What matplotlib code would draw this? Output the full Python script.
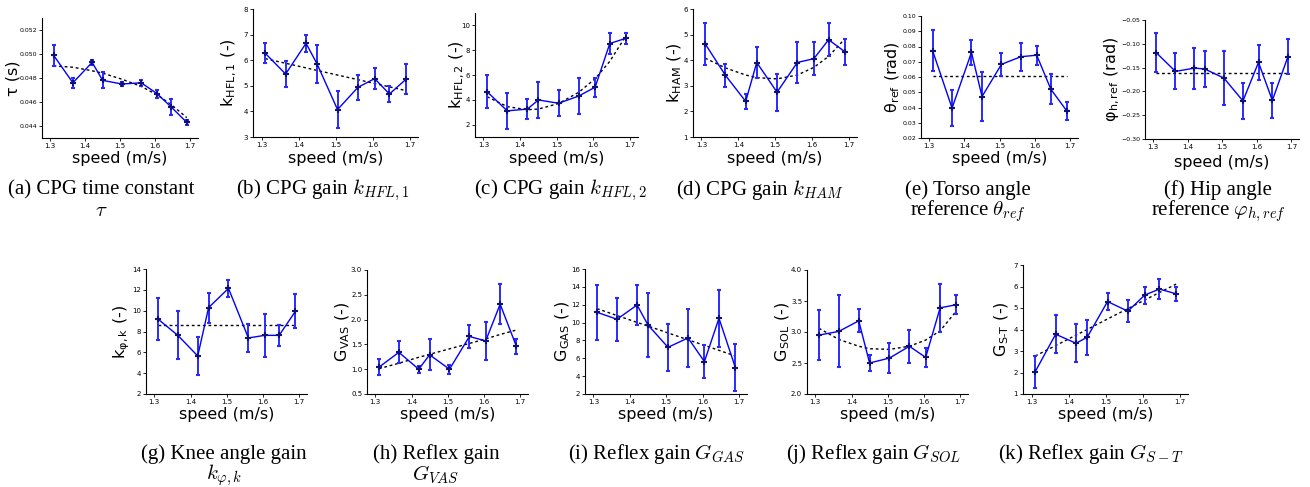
import numpy as np
import matplotlib.pyplot as plt

plt.rcParams['mathtext.fontset'] = 'cm'

# walking speeds (m/s)
speed = [1.31, 1.365, 1.42, 1.45, 1.505, 1.56, 1.605, 1.645, 1.69]

# (a) CPG time constant
tau = [0.0499, 0.0476, 0.0493, 0.0478, 0.0475, 0.0476, 0.0467, 0.0456, 0.0443]
tau_err = [0.00088, 0.00044, 0.0002, 0.00066, 0.00018, 0.00025, 0.00033, 0.00068, 0.0002]
tau_fit = [0.0490, 0.0489, 0.0486, 0.0484, 0.0479, 0.0473, 0.0466, 0.0458, 0.0447]

# (b) k_HFL,1
k_hfl1 = [6.27, 5.46, 6.66, 5.85, 4.07, 4.94, 5.28, 4.68, 5.26]
k_hfl1_err = [0.39, 0.5, 0.33, 0.75, 0.73, 0.5, 0.4, 0.3, 0.59]
k_hfl1_fit = [6.06, 5.88, 5.70, 5.60, 5.42, 5.24, 5.09, 4.96, 4.81]

# (c) k_HFL,2
k_hfl2 = [4.65, 3.11, 3.25, 3.99, 3.72, 4.30, 5.02, 8.54, 8.97]
k_hfl2_err = [1.32, 1.43, 0.8, 1.44, 1.03, 1.43, 0.77, 0.87, 0.45]
k_hfl2_fit = [4.25, 3.45, 3.2, 3.25, 3.7, 4.6, 5.7, 7.1, 9.2]

# (d) k_HAM
k_ham = [4.64, 3.41, 2.39, 3.91, 2.75, 3.91, 4.06, 4.80, 4.32]
k_ham_err = [0.82, 0.45, 0.3, 0.62, 0.73, 0.82, 0.64, 0.65, 0.49]
k_ham_fit = [4.08, 3.70, 3.42, 3.32, 3.27, 3.42, 3.72, 4.15, 4.85]

# (e) torso angle reference
theta_ref = [0.0772, 0.0396, 0.0761, 0.0472, 0.0683, 0.0733, 0.0743, 0.0520, 0.0378]
theta_ref_err = [0.0133, 0.0118, 0.0084, 0.0162, 0.0076, 0.0093, 0.0063, 0.0098, 0.0059]
theta_ref_fit = [0.0605] * 9

# (f) hip angle reference
phi_ref = [-0.119, -0.158, -0.151, -0.153, -0.172, -0.220, -0.139, -0.219, -0.127]
phi_ref_err = [0.041, 0.038, 0.043, 0.038, 0.056, 0.038, 0.037, 0.036, 0.037]
phi_ref_fit = [-0.162] * 9

# (g) knee angle gain
k_knee = [9.2, 7.63, 5.65, 10.29, 12.14, 7.38, 7.63, 7.63, 9.94]
k_knee_err = [1.97, 2.3, 1.87, 1.44, 0.85, 1.33, 2.06, 0.99, 1.63]
k_knee_fit = [8.59] * 9

# (h) G_VAS
g_vas = [1.04, 1.34, 1.00, 1.29, 1.00, 1.66, 1.57, 2.31, 1.46]
g_vas_err = [0.16, 0.22, 0.07, 0.31, 0.09, 0.24, 0.38, 0.4, 0.15]
g_vas_fit = [1.01, 1.12, 1.24, 1.30, 1.41, 1.52, 1.61, 1.70, 1.79]

# (i) G_GAS
g_gas = [11.15, 10.37, 11.97, 9.73, 7.23, 8.28, 5.63, 10.48, 4.96]
g_gas_err = [3.1, 2.4, 2.2, 3.6, 2.6, 3.25, 1.83, 3.2, 2.6]
g_gas_fit = [11.56, 10.79, 10.02, 9.61, 8.84, 8.07, 7.45, 6.89, 6.26]

# (j) G_SOL
g_sol = [2.95, 3.01, 3.18, 2.50, 2.58, 2.77, 2.59, 3.39, 3.44]
g_sol_err = [0.40, 0.58, 0.185, 0.125, 0.24, 0.27, 0.15, 0.39, 0.15]
g_sol_fit = [3.06, 2.88, 2.77, 2.73, 2.72, 2.77, 2.87, 3.02, 3.34]

# (k) G_S-T
g_st = [2.04, 3.78, 3.36, 3.64, 5.30, 4.85, 5.60, 5.88, 5.66]
g_st_err = [0.75, 0.89, 0.89, 0.82, 0.39, 0.5, 0.4, 0.48, 0.33]
g_st_fit = [2.77, 3.25, 3.74, 4.00, 4.49, 4.97, 5.37, 5.72, 6.11]

W, H = 1310, 487
fig = plt.figure(figsize=(13.1, 4.87), dpi=100)

# each panel: data, err, fit, ylabel, ylim, yticks, tick format,
# axes box in pixels (left, top, right, bottom), ylabel x px, xlabel y px,
# caption lines, caption center x px
panels = [
    (tau, tau_err, tau_fit, r'τ (s)', (0.043, 0.053), np.arange(0.044, 0.0521, 0.002), '%.3f',
     (42, 18, 198, 138), 13, 159, ['(a) CPG time constant', r'$\tau$'], 101),
    (k_hfl1, k_hfl1_err, k_hfl1_fit, r'k$_{\mathregular{HFL,1}}$ (-)', (3, 8), range(3, 9), '%d',
     (253, 9, 418, 137), 229, 159, [r'(b) CPG gain $k_{HFL,1}$'], 323),
    (k_hfl2, k_hfl2_err, k_hfl2_fit, r'k$_{\mathregular{HFL,2}}$ (-)', (1, 11), range(2, 11, 2), '%d',
     (475, 13, 638, 137), 457, 159, [r'(c) CPG gain $k_{HFL,2}$'], 560),
    (k_ham, k_ham_err, k_ham_fit, r'k$_{\mathregular{HAM}}$ (-)', (1, 6), range(1, 7), '%d',
     (693, 9, 857, 137), 675, 159, [r'(d) CPG gain $k_{HAM}$'], 760),
    (theta_ref, theta_ref_err, theta_ref_fit, r'θ$_{\mathregular{ref}}$ (rad)', (0.02, 0.10),
     np.arange(0.02, 0.101, 0.01), '%.2f',
     (921, 16, 1078, 138), 893, 159, ['(e) Torso angle', r'reference $\theta_{ref}$'], 968),
    (phi_ref, phi_ref_err, phi_ref_fit, r'φ$_{\mathregular{h,ref}}$ (rad)', (-0.30, -0.05),
     np.arange(-0.30, -0.049, 0.05), '%.2f',
     (1145, 20, 1299, 139), 1112, 162, ['(f) Hip angle', r'reference $\varphi_{h,ref}$'], 1218),
    (k_knee, k_knee_err, k_knee_fit, r'k$_{\mathregular{φ,k}}$ (-)', (2, 14), range(2, 15, 2), '%d',
     (146, 269, 307, 394), 122, 415, ['(g) Knee angle gain', r'$k_{\varphi,k}$'], 224),
    (g_vas, g_vas_err, g_vas_fit, r'G$_{\mathregular{VAS}}$ (-)', (0.5, 3.0),
     np.arange(0.5, 3.01, 0.5), '%.1f',
     (367, 270, 528, 394), 343, 415, ['(h) Reflex gain', r'$G_{VAS}$'], 436),
    (g_gas, g_gas_err, g_gas_fit, r'G$_{\mathregular{GAS}}$ (-)', (2, 16), range(2, 17, 2), '%d',
     (585, 269, 747, 394), 563, 415, [r'(i) Reflex gain $G_{GAS}$'], 657),
    (g_sol, g_sol_err, g_sol_fit, r'G$_{\mathregular{SOL}}$ (-)', (2.0, 4.0),
     np.arange(2.0, 4.01, 0.5), '%.1f',
     (807, 270, 968, 394), 783, 415, [r'(j) Reflex gain $G_{SOL}$'], 873),
    (g_st, g_st_err, g_st_fit, r'G$_{\mathregular{S\text{-}T}}$ (-)', (1, 7), range(1, 8), '%d',
     (1023, 265, 1188, 394), 1002, 415, [r'(k) Reflex gain $G_{S-T}$'], 1091),
]

for (vals, err, fit, ylab, ylim, yticks, fmt, box, ylab_x, xlab_y, caption, cap_x) in panels:
    l, t, r, b = box
    ax = fig.add_axes([l / W, 1 - b / H, (r - l) / W, (b - t) / H])
    ax.plot(speed, fit, color='black', linestyle='--', dashes=(2, 2), linewidth=1.0)
    ax.errorbar(speed, vals, yerr=err, color='blue', linewidth=1.0,
                ecolor='#2a2aff', elinewidth=1.4, capsize=1.5, capthick=1.0,
                marker='+', markersize=5, markeredgewidth=1.5, markeredgecolor='#10107a')
    ax.set_xlim(1.277, 1.722)
    ax.set_ylim(*ylim)
    ax.set_xticks([1.3, 1.4, 1.5, 1.6, 1.7])
    ax.set_xticklabels(['1.3', '1.4', '1.5', '1.6', '1.7'])
    ax.set_yticks(yticks)
    ax.set_yticklabels([(fmt % v).replace('-', '\u2212') for v in yticks])
    ax.spines['top'].set_visible(False)
    ax.spines['right'].set_visible(False)
    ax.tick_params(labelsize=5, length=2, width=0.6, pad=1.5, top=False, right=False)
    ax.tick_params(axis='y', labelsize=4.5 if '.' in fmt and fmt != '%.1f' else 5)
    ax.set_ylabel(ylab, fontsize=11.5, va='center')
    ax.yaxis.set_label_coords((ylab_x - l) / (r - l), 0.5)
    ax.set_xlabel('speed (m/s)', fontsize=11.5, va='center')
    ax.xaxis.set_label_coords(0.5, (b - xlab_y) / (b - t))
    cap_y = 190 if t < 200 else 454
    for i, line in enumerate(caption):
        fig.text(cap_x / W, 1 - (cap_y + 21 * i) / H, line, ha='center', va='center',
                 fontsize=15, family='Liberation Serif')

fig.savefig('out.png', dpi=100)
